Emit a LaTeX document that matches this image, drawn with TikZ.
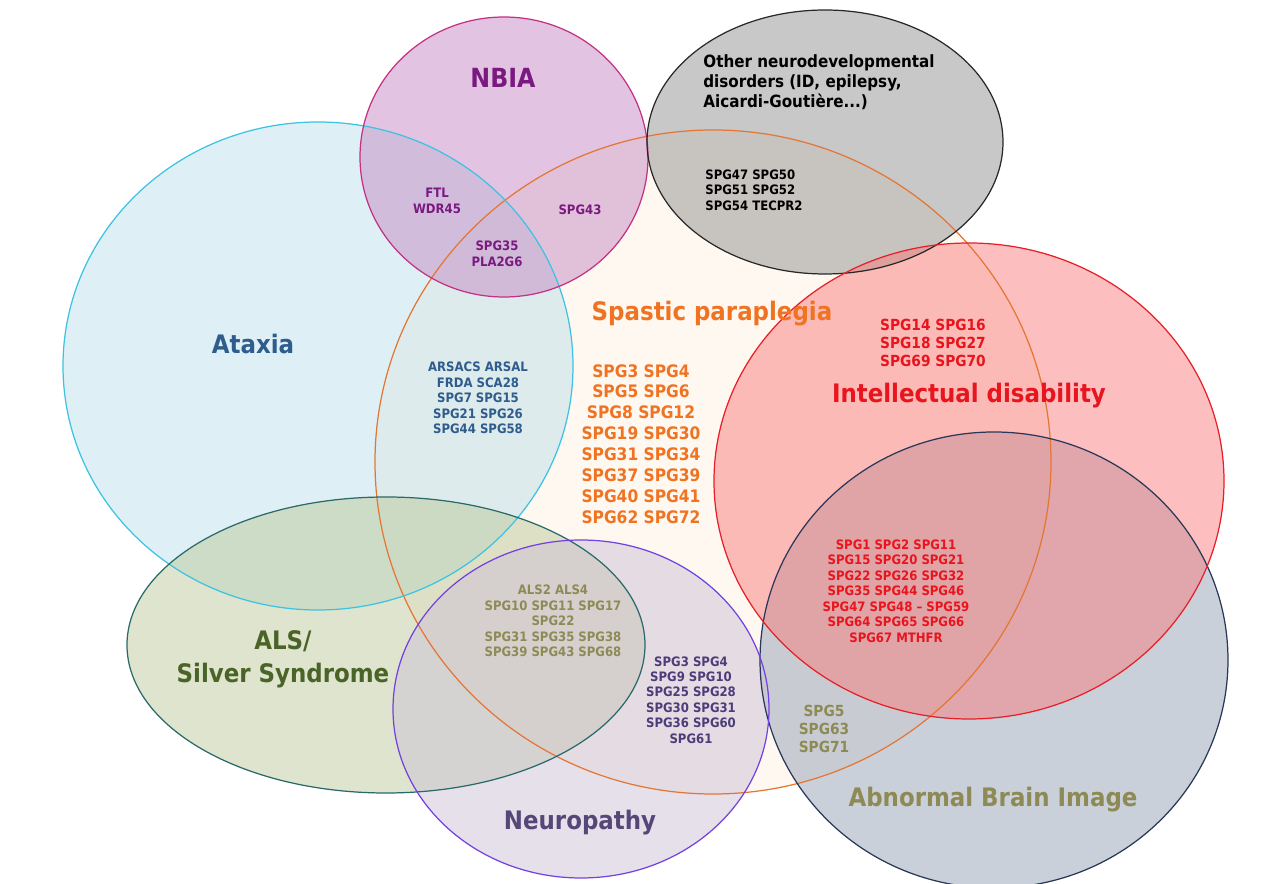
\documentclass[tikz,border=0pt]{standalone}
\usepackage{fontspec}
\setmainfont{DejaVu Sans Condensed}
\definecolor{spfill}{RGB}{253,241,225}
\definecolor{spline}{RGB}{228,118,52}
\definecolor{atfill}{RGB}{190,224,235}
\definecolor{atline}{RGB}{60,195,225}
\definecolor{nbfill}{RGB}{197,137,197}
\definecolor{nbline}{RGB}{196,48,130}
\definecolor{otfill}{RGB}{145,145,145}
\definecolor{otline}{RGB}{40,40,40}
\definecolor{idfill}{RGB}{249,125,125}
\definecolor{idline}{RGB}{232,30,40}
\definecolor{abfill}{RGB}{147,161,181}
\definecolor{abline}{RGB}{40,55,90}
\definecolor{alfill}{RGB}{189,201,155}
\definecolor{alline}{RGB}{40,105,105}
\definecolor{nefill}{RGB}{205,193,215}
\definecolor{neline}{RGB}{115,65,225}
\definecolor{nbtext}{RGB}{122,26,128}
\definecolor{attext}{RGB}{46,92,140}
\definecolor{sptext}{RGB}{240,115,34}
\definecolor{idtext}{RGB}{232,20,30}
\definecolor{altext}{RGB}{74,100,40}
\definecolor{olive}{RGB}{142,138,85}
\definecolor{netext}{RGB}{85,72,120}
\definecolor{neblock}{RGB}{74,61,122}
\begin{document}
\begin{tikzpicture}[x=0.02cm, y=-0.02cm, line join=round,
  big/.style={font=\bfseries\fontsize{14.5}{19}\selectfont, align=center},
  genes/.style={font=\bfseries\fontsize{7.4}{8.8}\selectfont, align=center, inner sep=0pt},
  midgenes/.style={font=\bfseries\fontsize{8.7}{10.2}\selectfont, align=center, inner sep=0pt}]
 \useasboundingbox (0,0) rectangle (1279,884);
 % the sets: fills first, outlines on top
 \foreach \cx/\cy/\rx/\ry/\f in {713/462/338/332/spfill, 318/366/255/244/atfill, 504/157/144/140/nbfill,
   825/142/178/132/otfill, 994/660/234/228/abfill, 969/481/255/238/idfill, 386/645/259/148/alfill, 581/709/188/169/nefill}
   \fill[\f, fill opacity=.5] (\cx,\cy) ellipse [x radius=\rx, y radius=\ry];
 \foreach \cx/\cy/\rx/\ry/\d in {713/462/338/332/spline, 318/366/255/244/atline, 504/157/144/140/nbline,
   825/142/178/132/otline, 994/660/234/228/abline, 969/481/255/238/idline, 386/645/259/148/alline, 581/709/188/169/neline}
   \draw[\d, line width=.7pt] (\cx,\cy) ellipse [x radius=\rx, y radius=\ry];
 % set names
 \node[big, text=nbtext, font=\bfseries\fontsize{15}{19}\selectfont] (nbia) at (503,78) {NBIA};
 \node[anchor=west, align=left, font=\bfseries\fontsize{9.6}{11.4}\selectfont, inner sep=0pt] (other) at (703,82) {Other neurodevelopmental\\disorders (ID, epilepsy,\\Aicardi-Goutière...)};
 \node[big, text=attext] (ataxia) at (253,344) {Ataxia};
 \node[big, text=sptext] (spastic) at (712,314) {Spastic paraplegia};
 \node[big, text=idtext] (id) at (969,396) {Intellectual disability};
 \node[big, text=altext, font=\bfseries\fontsize{14.5}{18.7}\selectfont] (als) at (283,659) {ALS/\\Silver Syndrome};
 \node[big, text=olive] (brain) at (993,800) {Abnormal Brain Image};
 \node[big, text=netext] (neuro) at (580,823) {Neuropathy};
 % gene lists
 \node[genes, text=nbtext] (ftl) at (437,201) {FTL\\WDR45};
 \node[genes, text=nbtext] (spg43) at (580,210) {SPG43};
 \node[genes, text=nbtext] (pla) at (497,254) {SPG35\\PLA2G6};
 \node[genes, anchor=west, align=left] (ogenes) at (705,190) {SPG47 SPG50\\SPG51 SPG52\\SPG54 TECPR2};
 \node[genes, text=attext] (agenes) at (478,398) {ARSACS ARSAL\\FRDA SCA28\\SPG7 SPG15\\SPG21 SPG26\\SPG44 SPG58};
 \node[text=sptext, font=\bfseries\fontsize{9.8}{11.9}\selectfont, align=center, inner sep=0pt] (sgenes) at (641,444) {SPG3 SPG4\\SPG5 SPG6\\SPG8 SPG12\\SPG19 SPG30\\SPG31 SPG34\\SPG37 SPG39\\SPG40 SPG41\\SPG62 SPG72};
 \node[midgenes, text=idtext] (igenes) at (933,343) {SPG14 SPG16\\SPG18 SPG27\\SPG69 SPG70};
 \node[genes, text=idtext] (ibgenes) at (896,591) {SPG1 SPG2 SPG11\\SPG15 SPG20 SPG21\\SPG22 SPG26 SPG32\\SPG35 SPG44 SPG46\\SPG47 SPG48 -- SPG59\\SPG64 SPG65 SPG66\\SPG67 MTHFR};
 \node[genes, text=olive] (lgenes) at (553,621) {ALS2 ALS4\\SPG10 SPG11 SPG17\\SPG22\\SPG31 SPG35 SPG38\\SPG39 SPG43 SPG68};
 \node[genes, text=neblock] (ngenes) at (691,700) {SPG3 SPG4\\SPG9 SPG10\\SPG25 SPG28\\SPG30 SPG31\\SPG36 SPG60\\SPG61};
 \node[midgenes, text=olive] (bgenes) at (824,729) {SPG5\\SPG63\\SPG71};
\end{tikzpicture}
\end{document}
